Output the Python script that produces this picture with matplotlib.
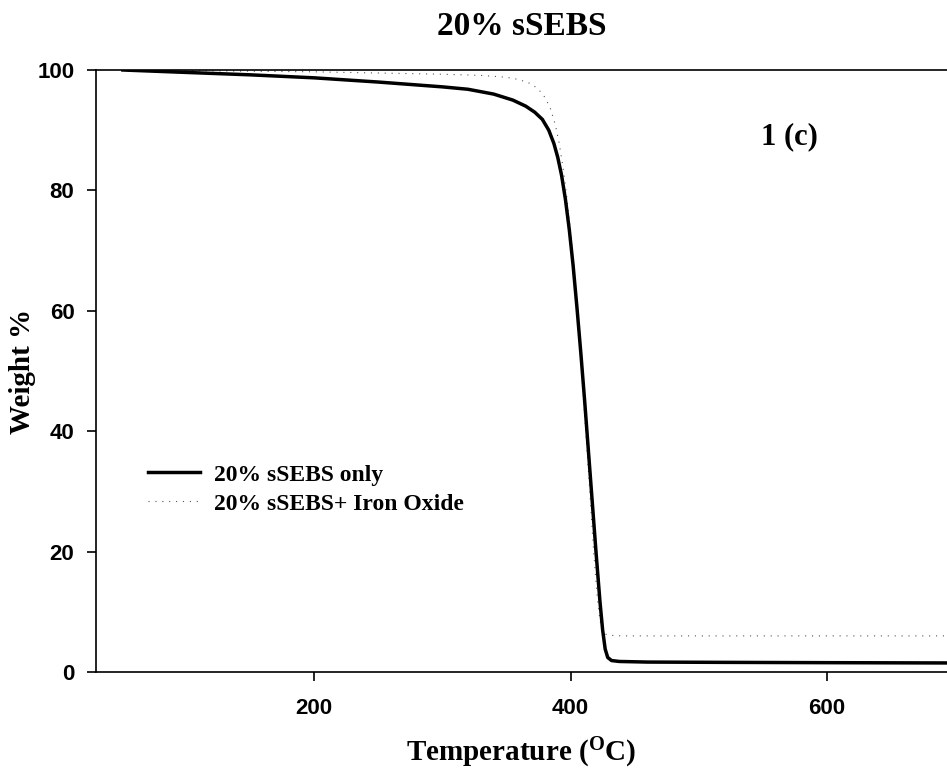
import numpy as np
import matplotlib.pyplot as plt

plt.rcParams['font.family'] = 'Liberation Serif'
plt.rcParams['mathtext.fontset'] = 'custom'
plt.rcParams['mathtext.rm'] = 'Liberation Serif:bold'
plt.rcParams['mathtext.bf'] = 'Liberation Serif:bold'
plt.rcParams['mathtext.default'] = 'rm'

# TGA curves, temperature (C) vs remaining weight (%)
temp_only = [51, 100, 150, 200, 250, 300, 320, 340, 355, 365, 372, 378, 383, 387,
             390, 393, 396, 399, 402, 405, 408, 411, 414, 417, 420, 423, 425, 427,
             429, 432, 438, 460, 520, 600, 700]
weight_only = [100, 99.6, 99.2, 98.7, 98.0, 97.2, 96.8, 96.0, 95.0, 94.0, 93.0, 91.8,
               90.0, 87.8, 85.5, 82.5, 78.5, 73.5, 67.5, 60.5, 53, 45, 36.5, 28,
               19.5, 11.5, 7, 3.8, 2.4, 1.9, 1.75, 1.65, 1.6, 1.55, 1.5]

temp_iron = [51, 100, 150, 200, 250, 300, 330, 350, 360, 368, 374, 379, 384, 388,
             391, 394, 397, 400, 403, 406, 409, 412, 415, 418, 421, 423, 425, 427,
             430, 440, 700]
weight_iron = [100, 99.9, 99.8, 99.7, 99.5, 99.3, 99.1, 98.8, 98.4, 97.8, 97.0, 95.8,
               93.8, 91, 88, 84, 79, 73, 66.5, 58, 49, 39.5, 30, 20, 12, 8.5, 6.8,
               6.3, 6.1, 6.0, 6.0]

labels = ['20% sSEBS only', '20% sSEBS+ Iron Oxide']
x_ticks = [200, 400, 600]
y_ticks = [0, 20, 40, 60, 80, 100]

fig = plt.figure(figsize=(9.47, 7.72), dpi=100)
ax = fig.add_axes([96/947, 1 - 672/772, 1 - 96/947, (672 - 70)/772])

ax.plot(temp_iron, weight_iron, color='#555555', lw=0.8,
        linestyle=(0, (1, 5.2)), label=labels[1], zorder=2)
ax.plot(temp_only, weight_only, color='black', lw=2.5,
        solid_joinstyle='round', label=labels[0], zorder=3)

ax.set_xlim(30, 693.5)
ax.set_ylim(0, 100)
ax.set_xticks(x_ticks)
ax.set_yticks(y_ticks)
ax.spines['right'].set_visible(False)
for s in ['left', 'top', 'bottom']:
    ax.spines[s].set_linewidth(1.2)
ax.tick_params(direction='out', length=6.5, width=1.2, labelsize=16)
ax.tick_params(axis='x', pad=12)
ax.tick_params(axis='y', pad=9)
for lab in ax.get_xticklabels() + ax.get_yticklabels():
    lab.set_fontfamily('Liberation Sans')
    lab.set_fontweight('bold')

ax.set_title('20% sSEBS', fontsize=24, fontweight='bold', pad=25)
ax.set_xlabel('Temperature ($^{O}$C)', fontsize=21, fontweight='bold', labelpad=12)
fig.text(22/947, 1 - 371/772, 'Weight %', rotation=90, fontsize=21,
         fontweight='bold', ha='center', va='center')

ax.text(1 - (947 - 789)/(947 - 96), 1 - (137 - 70)/602, '1 (c)', transform=ax.transAxes,
        fontsize=22, fontweight='bold', ha='center', va='center')

h, l = ax.get_legend_handles_labels()
ax.legend([h[1], h[0]], [l[1], l[0]], loc='upper left',
          bbox_to_anchor=(148/947, 1 - 464/772), bbox_transform=fig.transFigure,
          frameon=False, borderpad=0, borderaxespad=0, handlelength=2.2,
          handletextpad=0.6, labelspacing=0.32,
          prop={'family': 'Liberation Serif', 'weight': 'bold', 'size': 17})

fig.savefig('out.png', dpi=100)
